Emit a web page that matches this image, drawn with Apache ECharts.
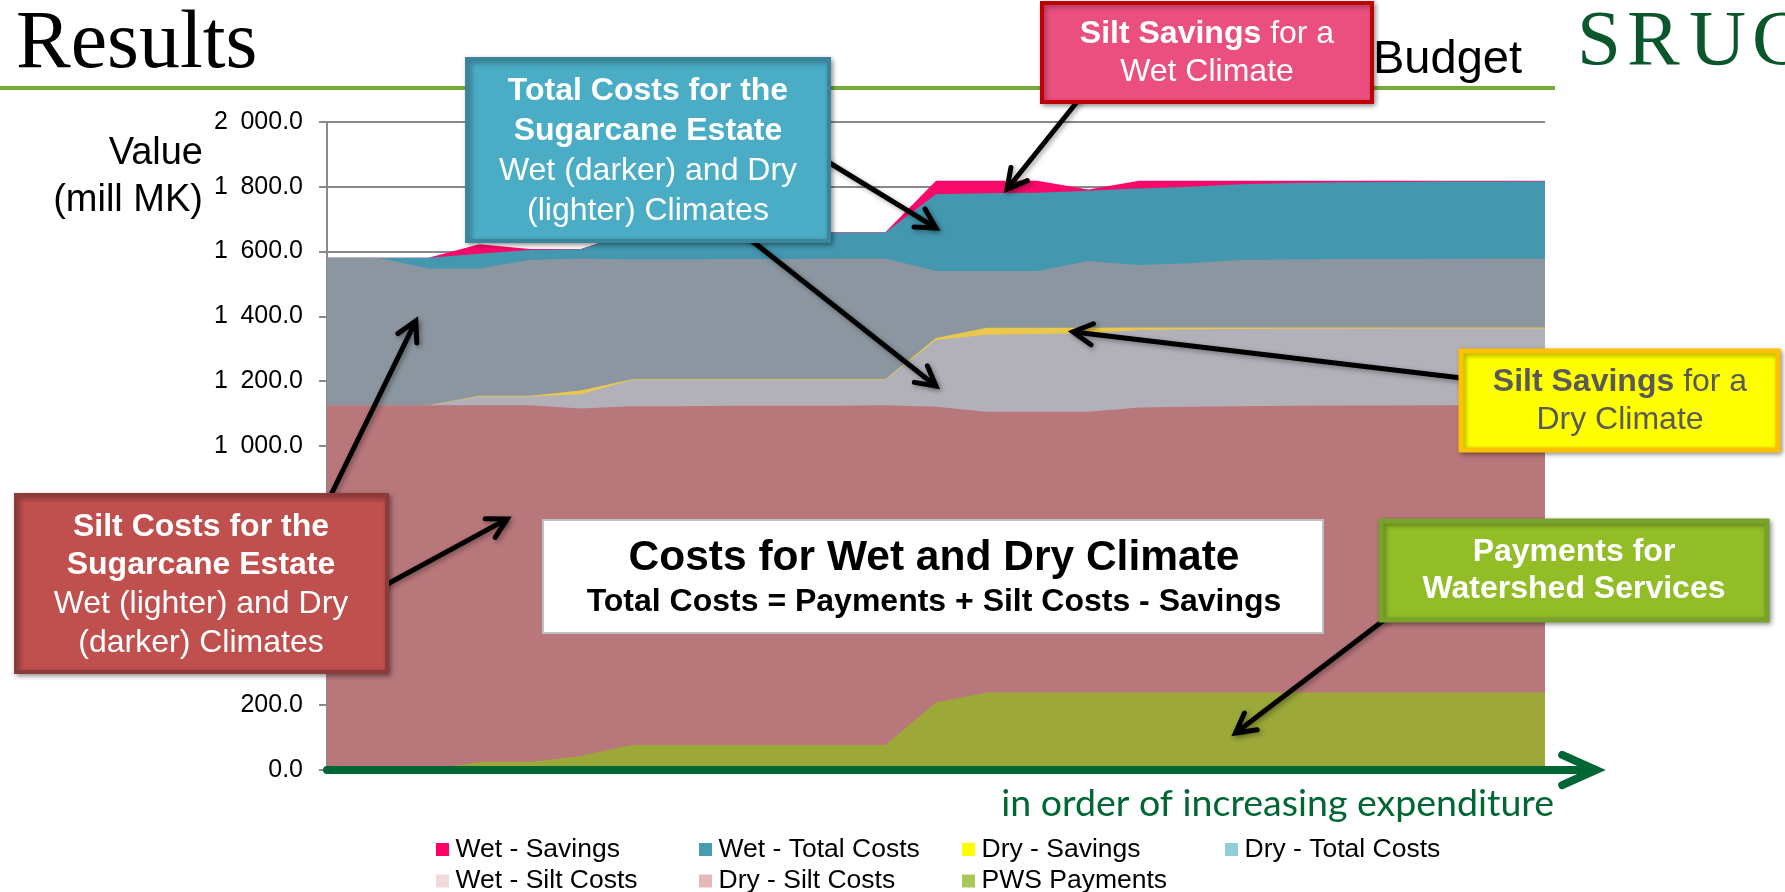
<!DOCTYPE html>
<html>
<head>
<meta charset="utf-8">
<title>Results</title>
<script src="https://cdn.jsdelivr.net/npm/echarts@6.0.0/dist/echarts.min.js"></script>
<style>
  html, body { margin: 0; padding: 0; background: #ffffff; overflow: hidden; }
  #chart { width: 1785px; height: 892px; }
</style>
</head>
<body>
<div id="chart"></div>
<script>
// Scenarios, ordered by increasing expenditure on watershed services
const scenarios = ['1', '2', '3', '4', '5', '6', '7', '8', '9', '10', '11', '12', '13',
  '14', '15', '16', '17', '18', '19', '20', '21', '22', '23', '24', '25'];

// Plotted levels per scenario, mill MK
const wetSavings  = [1581, 1581, 1581, 1623, 1608, 1608, 1660, 1660, 1660, 1660, 1660, 1660, 1819,
  1819, 1819, 1792, 1819, 1819, 1819, 1819, 1819, 1819, 1819, 1819, 1819];
const wetTotal    = [1581, 1581, 1581, 1593, 1605, 1607, 1659, 1659, 1659, 1659, 1659, 1659, 1777,
  1780, 1782, 1788, 1795, 1800, 1808, 1812, 1814, 1815, 1816, 1816, 1817];
const wetSilt     = [1581, 1581, 1548, 1548, 1574, 1579, 1576, 1576, 1577, 1577, 1579, 1579, 1540,
  1540, 1540, 1571, 1559, 1564, 1574, 1576, 1577, 1577, 1578, 1579, 1579];
const drySavings  = [1126, 1126, 1126, 1155, 1155, 1171, 1206, 1206, 1206, 1206, 1206, 1206, 1333,
  1365, 1365, 1365, 1366, 1366, 1366, 1366, 1366, 1366, 1366, 1366, 1366];
const dryTotal    = [1126, 1126, 1126, 1153, 1153, 1160, 1204, 1204, 1204, 1204, 1204, 1204, 1327,
  1343, 1346, 1348, 1358, 1360, 1361, 1362, 1362, 1363, 1363, 1363, 1363];
const drySilt     = [1126, 1126, 1126, 1126, 1126, 1116, 1123, 1123, 1124, 1124, 1124, 1126, 1121,
  1106, 1106, 1106, 1119, 1121, 1123, 1124, 1125, 1125, 1126, 1126, 1126];
const pwsPayments = [0, 0, 0, 25, 25, 43, 77, 77, 77, 77, 77, 77, 208,
  239, 239, 239, 239, 239, 239, 239, 239, 239, 239, 239, 239];

// Value axis tick labels (0 to 2 000, step 200; en space as thousands separator)
const yTickLabels = ['0.0', '200.0', '400.0', '600.0', '800.0', '1\u2002000.0',
  '1\u2002200.0', '1\u2002400.0', '1\u2002600.0', '1\u2002800.0', '2\u2002000.0'];

const SANS = '"Liberation Sans", Arial, sans-serif';
const SERIF = '"Liberation Serif", "Times New Roman", serif';

// Overlapping areas, back to front; "key" is the legend swatch colour
const layers = [
  { name: 'Wet - Savings',     data: wetSavings,  fill: '#F80A6A', key: '#FF0066' },
  { name: 'Wet - Total Costs', data: wetTotal,    fill: '#4397AF', key: '#4A9BB2' },
  { name: 'Wet - Silt Costs',  data: wetSilt,     fill: '#8B96A0', key: '#F2DCDB' },
  { name: 'Dry - Savings',     data: drySavings,  fill: '#E9C84B', key: '#FFFF00' },
  { name: 'Dry - Total Costs', data: dryTotal,    fill: '#B2B0B8', key: '#92CDDC' },
  { name: 'Dry - Silt Costs',  data: drySilt,     fill: '#B8777B', key: '#E6B9B8' },
  { name: 'PWS Payments',      data: pwsPayments, fill: '#9CA838', key: '#A9C85C' }
];
const keyOf = n => layers.find(l => l.name === n).key;

const legendColumns = [
  ['Wet - Savings', 'Wet - Silt Costs'],
  ['Wet - Total Costs', 'Dry - Silt Costs'],
  ['Dry - Savings', 'PWS Payments'],
  ['Dry - Total Costs']
];
const legendLeft = [436, 699, 962, 1225];

const chart = echarts.init(document.getElementById('chart'), null, { renderer: 'canvas' });

chart.setOption({
  animation: false,
  backgroundColor: '#ffffff',
  grid: { left: 327, right: 240, top: 122, bottom: 122, containLabel: false, outerBoundsMode: 'none' },
  xAxis: {
    type: 'category',
    data: scenarios,
    boundaryGap: false,
    axisLine: { show: false },
    axisTick: { show: false },
    axisLabel: { show: false },
    splitLine: { show: false }
  },
  yAxis: {
    type: 'value',
    min: 0,
    max: 2000,
    interval: 200,
    axisLine: { show: true, lineStyle: { color: '#898989', width: 2 } },
    axisTick: { show: true, length: 8, lineStyle: { color: '#898989', width: 2 } },
    splitLine: { show: true, lineStyle: { color: '#898989', width: 2 } },
    axisLabel: {
      margin: 24,
      color: '#000000',
      fontFamily: SANS,
      fontSize: 25,
      formatter: v => yTickLabels[Math.round(v / 200)]
    }
  },
  legend: legendColumns.map((names, i) => ({
    orient: 'vertical',
    left: legendLeft[i],
    top: 836,
    width: 250,
    height: 120,
    padding: 0,
    itemGap: 4.5,
    itemWidth: 16,
    itemHeight: 13,
    icon: 'path://M0,0H10V10H0Z',
    selectedMode: false,
    textStyle: { fontFamily: SANS, fontSize: 26.5, color: '#000000', lineHeight: 22 },
    data: names.map(n => ({ name: n, itemStyle: { color: keyOf(n) } }))
  })),
  series: layers.map(l => ({
    name: l.name,
    type: 'line',
    data: l.data,
    symbol: 'none',
    showSymbol: false,
    silent: true,
    lineStyle: { width: 0, color: l.key },
    itemStyle: { color: l.key },
    areaStyle: { color: l.fill, opacity: 1 },
    emphasis: { disabled: true }
  }))
});

// Pixel position of a (fractional scenario index, value) point on the plot
function px(idx, val) {
  const last = scenarios.length - 1;
  const i0 = Math.min(Math.floor(idx), last);
  const i1 = Math.min(i0 + 1, last);
  const p0 = chart.convertToPixel({ gridIndex: 0 }, [i0, val]);
  const p1 = chart.convertToPixel({ gridIndex: 0 }, [i1, val]);
  const t = idx - i0;
  return [p0[0] + (p1[0] - p0[0]) * t, p0[1]];
}

const shadow = { shadowBlur: 5, shadowOffsetX: 2, shadowOffsetY: 2, shadowColor: 'rgba(0,0,0,0.35)' };

function arrow(from, to, opts) {
  const o = Object.assign({ width: 5, color: '#000000', head: 22, spread: 0.5, shadow: true }, opts);
  const ang = Math.atan2(to[1] - from[1], to[0] - from[0]);
  const back = (a, r) => [to[0] + r * Math.cos(a), to[1] + r * Math.sin(a)];
  const h1 = back(ang + Math.PI - o.spread, o.head);
  const h2 = back(ang + Math.PI + o.spread, o.head);
  const end = back(ang + Math.PI, o.width * 0.6);
  const st = Object.assign({ stroke: o.color, lineWidth: o.width, fill: null, lineCap: 'round', lineJoin: 'miter' },
    o.shadow ? shadow : {});
  return [
    { type: 'polyline', z: 100, silent: true, shape: { points: [from, end] }, style: Object.assign({}, st) },
    { type: 'polyline', z: 100, silent: true, shape: { points: [h1, to, h2] }, style: Object.assign({}, st) }
  ];
}

function box(x, y, w, h, fill, stroke, lw, withShadow) {
  return {
    type: 'rect', z: 110, silent: true,
    shape: { x: x, y: y, width: w, height: h },
    style: Object.assign({ fill: fill, stroke: stroke, lineWidth: lw }, withShadow ? shadow : {})
  };
}

function richText(cx, cy, text, color, size, lh) {
  const tok = w => ({ fontFamily: SANS, fontSize: size, fontWeight: w, fill: color, lineHeight: lh });
  return {
    type: 'text', z: 111, silent: true, x: cx, y: cy,
    style: {
      text: text, fontFamily: SANS, fontSize: size, fill: color, lineHeight: lh,
      align: 'center', verticalAlign: 'middle',
      rich: { b: tok('bold'), n: tok('normal') }
    }
  };
}

function plainText(x, y, text, font, color, align) {
  return {
    type: 'text', z: 111, silent: true, x: x, y: y,
    style: { text: text, font: font, fill: color, align: align || 'left', verticalAlign: 'middle' }
  };
}

const origin = px(0, 0);
const graphics = [];

// Page heading, rule and logo
graphics.push({
  type: 'line', z: 90, silent: true,
  shape: { x1: 0, y1: 88, x2: 1555, y2: 88 },
  style: { stroke: '#74AC35', lineWidth: 4 }
});
graphics.push(plainText(16, 45, 'Results', '82px ' + SERIF, '#000000'));
graphics.push(plainText(1373, 60, 'Budget', '47px ' + SANS, '#000000'));
['S', 'R', 'U', 'C'].forEach((ch, i) => {
  graphics.push(plainText([1577, 1627, 1689, 1752][i], 43, ch, '79px ' + SERIF, '#0B572C'));
});

// Axis titles
graphics.push(plainText(203, 154, 'Value', '38px ' + SANS, '#000000', 'right'));
graphics.push(plainText(203, 201, '(mill MK)', '38px ' + SANS, '#000000', 'right'));
graphics.push(plainText(1554, 804, 'in order of increasing expenditure', '37.5px Lato, ' + SANS, '#006633', 'right'));

// Horizontal axis drawn as a long arrow
graphics.push(...arrow([origin[0], origin[1]], [1596, origin[1]],
  { width: 8, color: '#006633', head: 37, spread: 0.42, shadow: false }));

// Callout arrows: fixed tails at the boxes, heads at points on the plot
graphics.push(...arrow([815, 154], px(12.0, 1673)));
graphics.push(...arrow([742, 233], px(12.0, 1185)));
graphics.push(...arrow([1085, 92], px(13.4, 1793)));
graphics.push(...arrow([1470, 379], px(14.7, 1352)));
graphics.push(...arrow([326, 505], px(1.75, 1386)));
graphics.push(...arrow([380, 588], px(3.55, 775)));
graphics.push(...arrow([1396, 611], px(17.9, 114)));

// Callout boxes
graphics.push(box(1042, 3, 330, 99, '#EB4F80', '#C00000', 4, true));
graphics.push(richText(1207, 53, '{b|Silt Savings}{n| for a}\n{n|Wet Climate}', '#ffffff', 32, 38));

graphics.push(box(467, 59, 362, 182, '#4BACC6', '#3A8599', 4, true));
graphics.push(richText(648, 151,
  '{b|Total Costs for the}\n{b|Sugarcane Estate}\n{n|Wet (darker) and Dry}\n{n|(lighter) Climates}', '#ffffff', 32, 40));

graphics.push(box(16, 495, 371, 177, '#C0504D', '#8C3B39', 4, true));
graphics.push(richText(201, 585,
  '{b|Silt Costs for the}\n{b|Sugarcane Estate}\n{n|Wet (lighter) and Dry}\n{n|(darker) Climates}', '#ffffff', 32, 38.7));

graphics.push(box(543, 520, 780, 113, '#ffffff', '#BFBFBF', 2, false));
graphics.push(plainText(934, 558, 'Costs for Wet and Dry Climate', 'bold 42.5px ' + SANS, '#000000', 'center'));
graphics.push(plainText(934, 602, 'Total Costs = Payments + Silt Costs - Savings', 'bold 32px ' + SANS, '#000000', 'center'));

graphics.push(box(1461, 351, 317, 99, '#FFFF00', '#FFC000', 5, true));
graphics.push(richText(1620, 401, '{b|Silt Savings}{n| for a}\n{n|Dry Climate}', '#595959', 32, 38));

graphics.push(box(1381, 521, 386, 99, '#92BD27', '#78A22D', 5, true));
graphics.push(richText(1574, 571, '{b|Payments for}\n{b|Watershed Services}', '#ffffff', 32, 37));

chart.setOption({ graphic: { elements: graphics } });
</script>
</body>
</html>
